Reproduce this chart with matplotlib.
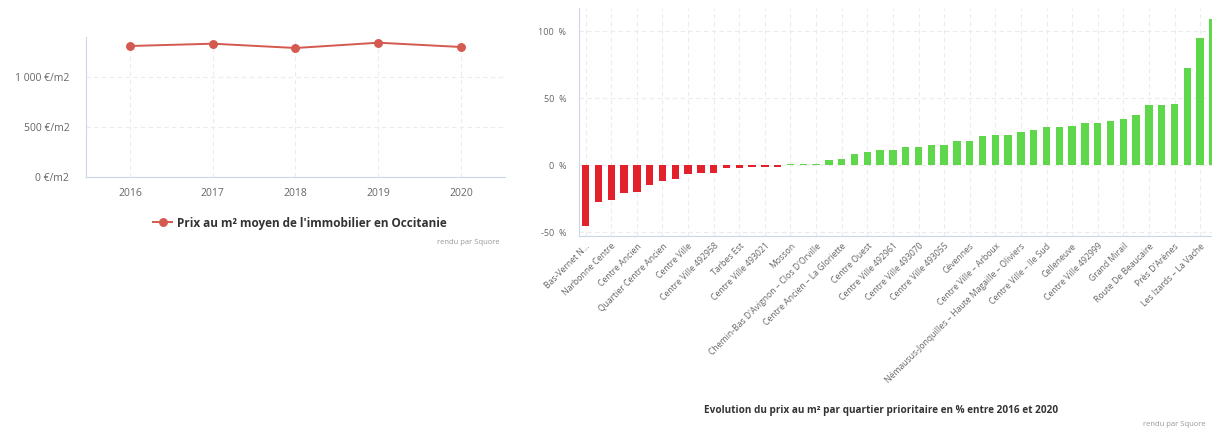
import matplotlib
matplotlib.use("Agg")
import matplotlib.pyplot as plt
import numpy as np

plt.rcParams['font.family'] = ['Open Sans', 'DejaVu Sans']

# ---- Left chart data ----
years = ["2016", "2017", "2018", "2019", "2020"]
prix_m2 = [1307, 1330, 1287, 1340, 1297]
line_label = "Prix au m² moyen de l'immobilier en Occitanie"

# ---- Right chart data ----
evolution_pct = [-45.5, -27.1, -26.1, -20.4, -19.7, -14.7, -11.9, -10.2, -6.7, -6.0,
                 -6.0, -2.0, -2.0, -1.2, -1.2, -1.2, 1.0, 1.0, 1.0, 3.7,
                 4.5, 8.2, 10.0, 11.7, 11.7, 13.4, 13.4, 14.7, 14.7, 18.4,
                 18.4, 21.4, 22.6, 22.6, 24.9, 26.1, 28.4, 28.4, 29.6, 31.1,
                 31.8, 33.3, 34.6, 37.3, 44.8, 44.8, 46.0, 72.4, 94.5, 109.2]
shown_labels = ["Bas-Vernet N...", "Narbonne Centre", "Centre Ancien", "Quartier Centre Ancien",
                "Centre Ville", "Centre Ville 492958", "Tarbes Est", "Centre Ville 493021",
                "Mosson", "Chemin-Bas D'Avignon – Clos D'Orville", "Centre Ancien – La Gloriette",
                "Centre Ouest", "Centre Ville 492961", "Centre Ville 493070", "Centre Ville 493055",
                "Cévennes", "Centre Ville – Arboux",
                "Némausus-Jonquilles – Haute Magaille – Oliviers", "Centre Ville – Ile Sud",
                "Celleneuve", "Centre Ville 492999", "Grand Mirail", "Route De Beaucaire",
                "Près D'Arènes", "Les Izards – La Vache"]
bar_title = "Evolution du prix au m² par quartier prioritaire en % entre 2016 et 2020"

W, H = 1212, 430
fig = plt.figure(figsize=(W / 100, H / 100), dpi=100)

def rect(l, t, r, b):
    return [l / W, 1 - b / H, (r - l) / W, (b - t) / H]

axis_col = "#ccd6eb"
grid_col = "#ececec"
tick_col = "#666666"

# ---------- Left line chart ----------
ax1 = fig.add_axes(rect(86, 36.7, 505, 176.7))
x = np.arange(len(years))
ax1.plot(x, prix_m2, color="#d4594e", lw=1.4, marker="o", ms=5.4, zorder=3)
ax1.set_xlim(-0.53, len(years) - 0.47)
ax1.set_ylim(0, 1400)
ax1.set_yticks([0, 500, 1000])
ax1.set_yticklabels(["0 €/m2", "500 €/m2", "1 000 €/m2"])
ax1.set_xticks(x)
ax1.set_xticklabels(years)
ax1.grid(True, color=grid_col, ls=(0, (4, 3)), lw=0.8)
ax1.set_axisbelow(True)
for s in ["top", "right"]:
    ax1.spines[s].set_visible(False)
for s in ["left", "bottom"]:
    ax1.spines[s].set_color(axis_col)
ax1.tick_params(length=0, colors=tick_col, labelsize=7.5, pad=8)
ax1.tick_params(axis="y", pad=12)

# legend
fig.legend(handles=[plt.Line2D([], [], color="#d4594e", lw=1.4, marker="o", ms=5.4)],
           labels=[line_label], loc="center", bbox_to_anchor=(300 / W, 1 - 223 / H),
           frameon=False, prop={"size": 8.5, "weight": "bold"}, handlelength=1.6,
           handletextpad=0.4, labelcolor="#333333")
fig.text(500 / W, 1 - 242 / H, "rendu par Squore", ha="right", va="center",
         fontsize=5.5, color="#999999")

# ---------- Right bar chart ----------
ax2 = fig.add_axes(rect(579, 8.3, 1219.6, 236))
xb = np.arange(len(evolution_pct))
vals = np.array(evolution_pct)
colors = np.where(vals < 0, "#e3212d", "#5ed84a")
ax2.bar(xb, vals, width=0.57, color=colors, zorder=3)
ax2.set_xlim(-0.52, len(vals) - 0.48)
ax2.set_ylim(-52.8, 117)
ax2.set_yticks([-50, 0, 50, 100])
ax2.set_yticklabels(["-50  %", "0  %", "50  %", "100  %"])
ax2.set_xticks(xb[::2])
ax2.set_xticklabels(shown_labels, rotation=45, ha="right", va="top",
                    rotation_mode="anchor")
ax2.grid(True, color=grid_col, ls=(0, (4, 3)), lw=0.8)
ax2.set_axisbelow(True)
for s in ["top", "right"]:
    ax2.spines[s].set_visible(False)
for s in ["left", "bottom"]:
    ax2.spines[s].set_color(axis_col)
ax2.tick_params(length=0, colors=tick_col)
ax2.tick_params(axis="y", labelsize=6.5, pad=9)
ax2.tick_params(axis="x", labelsize=6.2, pad=4)

fig.text(881 / W, 1 - 411 / H, bar_title, ha="center", va="center",
         fontsize=7.2, weight="bold", color="#333333")
fig.text(1206 / W, 1 - 425 / H, "rendu par Squore", ha="right", va="center",
         fontsize=5.5, color="#999999")

fig.savefig("out.png", dpi=100)
